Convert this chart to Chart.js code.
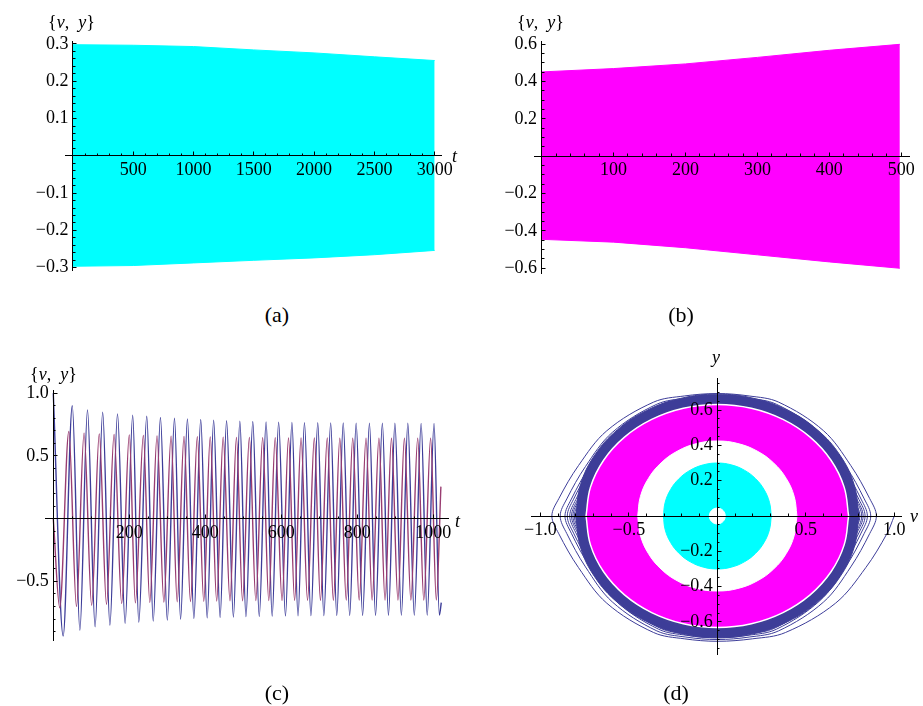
<!DOCTYPE html>
<html>
<head>
<meta charset="utf-8">
<script src="https://cdn.jsdelivr.net/npm/chart.js@4.4.1/dist/chart.umd.min.js"></script>
<style>
body { margin: 0; background: #fff; width: 923px; height: 706px; position: relative; overflow: hidden; font-family: 'Liberation Serif', serif; }
canvas { position: absolute; }
.lbl { position: absolute; font-size: 18px; line-height: 1; white-space: pre; color: #000; }
.cap { position: absolute; font-size: 22px; line-height: 1; width: 60px; text-align: center; color: #000; }
</style>
</head>
<body>
<canvas id="pa" width="461" height="300" style="left:0;top:0"></canvas>
<canvas id="pb" width="462" height="300" style="left:461px;top:0"></canvas>
<canvas id="pc" width="461" height="376" style="left:0;top:330px"></canvas>
<canvas id="pd" width="462" height="376" style="left:461px;top:330px"></canvas>

<div class="lbl" style="left:48px;top:13px">{<i>v</i>,  <i>y</i>}</div>
<div class="lbl" style="left:452px;top:147px"><i>t</i></div>
<div class="lbl" style="left:517px;top:13px">{<i>v</i>,  <i>y</i>}</div>
<div class="lbl" style="left:30px;top:365px">{<i>v</i>,  <i>y</i>}</div>
<div class="lbl" style="left:455px;top:512px"><i>t</i></div>
<div class="lbl" style="left:712px;top:348px"><i>y</i></div>
<div class="lbl" style="left:910px;top:507px"><i>v</i></div>
<div class="cap" style="left:247px;top:304px">(a)</div>
<div class="cap" style="left:651px;top:304px">(b)</div>
<div class="cap" style="left:247px;top:682px">(c)</div>
<div class="cap" style="left:646px;top:682px">(d)</div>

<script>
// (a) envelope of the fast oscillation, read at the tick marks
const aTimes = [0, 500, 1000, 1500, 2000, 2500, 3000];
const aUpper = [0.298, 0.2965, 0.293, 0.284, 0.276, 0.2655, 0.2555];
const aLower = [-0.296, -0.294, -0.287, -0.280, -0.2735, -0.265, -0.2535];

// (b) envelope, growing
const bTimes = [0, 100, 200, 300, 400, 498];
const bUpper = [0.452, 0.47, 0.495, 0.53, 0.568, 0.60];
const bLower = [-0.445, -0.46, -0.49, -0.528, -0.566, -0.60];

// (c) turning points of v (blue) and y (red)
const vTimes = [0, 26, 50, 70, 90, 110, 130, 149, 169, 189, 209, 225, 246, 263, 282, 300, 319, 335, 353, 370,
	388, 405, 422, 439, 456, 474, 491, 507, 525, 542, 560, 576, 593, 611, 628, 644, 661, 678, 696, 712,
	730, 746, 763, 780, 797, 814, 832, 848, 866, 882, 899, 916, 933, 950, 968, 984, 1002, 1016, 1021];
const vValues = [1.0, -0.935, 0.899, -0.888, 0.867, -0.861, 0.848, -0.848, 0.835, -0.834, 0.824, -0.824,
	0.816, -0.816, 0.806, -0.808, 0.80, -0.80, 0.795, -0.795, 0.79, -0.791, 0.785, -0.787, 0.78, -0.784,
	0.777, -0.781, 0.774, -0.779, 0.771, -0.777, 0.769, -0.775, 0.767, -0.774, 0.765, -0.773, 0.764, -0.772,
	0.763, -0.771, 0.762, -0.771, 0.761, -0.77, 0.761, -0.77, 0.76, -0.77, 0.76, -0.769, 0.76, -0.769,
	0.759, -0.769, 0.759, -0.769, -0.67];
const yTimes = [0, 17, 41, 61, 81, 101, 121, 140, 160, 180, 200, 216, 237, 254, 273, 291, 310, 326, 344, 361,
	379, 396, 413, 430, 447, 465, 482, 498, 516, 533, 551, 567, 584, 602, 619, 635, 652, 669, 687, 703,
	721, 737, 754, 771, 788, 805, 823, 839, 857, 873, 890, 907, 924, 941, 959, 975, 993, 1008, 1020];
const yValues = [0, -0.71, 0.694, -0.70, 0.681, -0.69, 0.675, -0.682, 0.67, -0.676, 0.666, -0.671, 0.662,
	-0.667, 0.659, -0.664, 0.656, -0.662, 0.654, -0.66, 0.652, -0.658, 0.65, -0.656, 0.648, -0.655, 0.647,
	-0.654, 0.646, -0.653, 0.645, -0.652, 0.644, -0.652, 0.643, -0.651, 0.643, -0.65, 0.642, -0.65, 0.642,
	-0.65, 0.641, -0.649, 0.641, -0.649, 0.641, -0.649, 0.64, -0.649, 0.64, -0.648, 0.64, -0.648, 0.64,
	-0.648, 0.64, -0.648, 0.255];

// (d) outlines: unit quarter shapes and half-widths [v, y]
const circleV = [1, 0.966, 0.866, 0.707, 0.5, 0.259, 0];
const circleY = [0, 0.259, 0.5, 0.707, 0.866, 0.966, 1];
const loopShapeV = [1, 0.958, 0.839, 0.668, 0.385, 0.2, 0];
const loopShapeY = [0, 0.142, 0.412, 0.696, 0.93, 0.98, 1];
const bandSize = [0.80, 0.69];
const magentaSize = [0.742, 0.632];
const whiteSize = [0.45, 0.425];
const cyanSize = [0.305, 0.30];
const holeSize = [0.045, 0.045];

Chart.defaults.font.family = "'Liberation Serif', serif";
Chart.defaults.font.size = 18;
Chart.defaults.color = '#000';
Chart.defaults.animation = false;
Chart.defaults.plugins.legend.display = false;
Chart.defaults.plugins.tooltip.enabled = false;
Chart.defaults.elements.point.radius = 0;
Chart.defaults.elements.point.hoverRadius = 0;

const BLUE = '#3d3d99';
const RED = '#993d71';

function label(dec, pad) {
	return v => Math.abs(v) < 1e-9 ? '' : v.toFixed(dec).replace('-', '\u2212') + pad;
}

// ticks at every multiple of step inside the range
function stepTicks(step) {
	return s => {
		const ticks = [];
		for (let i = Math.ceil(s.min / step - 1e-9); i * step <= s.max + 1e-9; i++) {
			ticks.push({value: +(i * step).toFixed(6)});
		}
		s.ticks = ticks;
	};
}

function scale(axis, range, step, len, major, fmt) {
	return {
		type: 'linear', axis: axis, position: axis === 'x' ? {y: 0} : {x: 0},
		min: range[0], max: range[1], afterBuildTicks: stepTicks(step),
		grid: {drawOnChartArea: false, tickLength: len, tickColor: '#000', tickWidth: 1, z: 1},
		border: {display: major, color: '#000', width: 1, z: 1},
		ticks: {display: major, autoSkip: false, z: 1, maxRotation: 0, minRotation: 0, padding: 8, callback: fmt}
	};
}

function axes(xr, xs, yr, ys, xDec, yDec) {
	return {
		x: scale('x', xr, xs[0], -4.5, true, label(xDec, '')),
		xm: scale('x', xr, xs[1], -2.5, false),
		y: scale('y', yr, ys[0], -4.5, true, label(yDec, ' ')),
		ym: scale('y', yr, ys[1], -2.5, false)
	};
}

function pts(xs, ys) {
	return xs.map((x, i) => ({x: x, y: ys[i]}));
}

function envelope(times, vals, color) {
	return {data: pts(times, vals), showLine: true, fill: 'origin', backgroundColor: color,
		borderColor: color, borderWidth: 1, xAxisID: 'x', yAxisID: 'y'};
}

// two halves of a closed outline, each filled to the v axis
function halves(size, color, edge, width, order) {
	const n = circleV.length - 1;
	const a = size[0], b = size[1];
	return [1, -1].map(s => {
		const data = [];
		for (let j = 0; j <= n; j++) data.push({x: -a * circleV[j], y: s * b * circleY[j]});
		for (let j = n - 1; j >= 0; j--) data.push({x: a * circleV[j], y: s * b * circleY[j]});
		return {data: data, showLine: true, fill: 'origin', tension: 0.4, backgroundColor: color,
			borderColor: edge, borderWidth: width, order: order, xAxisID: 'x', yAxisID: 'y'};
	});
}

function base(pad, sc) {
	return {responsive: false, devicePixelRatio: 1, layout: {padding: pad}, scales: sc};
}

new Chart(document.getElementById('pa'), {
	type: 'scatter',
	data: {datasets: [envelope(aTimes, aUpper, '#00ffff'), envelope(aTimes, aLower, '#00ffff')]},
	options: base({left: 65, top: 41.7, right: 19.3, bottom: 30},
		axes([-66, 3055], [500, 100], [-0.306, 0.306], [0.1, 0.02], 0, 1))
});

new Chart(document.getElementById('pb'), {
	type: 'scatter',
	data: {datasets: [envelope(bTimes, bUpper, '#ff00ff'), envelope(bTimes, bLower, '#ff00ff')]},
	options: base({left: 73, top: 41.7, right: 10.7, bottom: 26.7},
		axes([-10.6, 511], [100, 20], [-0.627, 0.614], [0.2, 0.05], 0, 1))
});

new Chart(document.getElementById('pc'), {
	type: 'scatter',
	data: {
		datasets: [
			{data: pts(yTimes, yValues), showLine: true, borderColor: RED, borderWidth: 1.4,
				cubicInterpolationMode: 'monotone', xAxisID: 'x', yAxisID: 'y'},
			{data: pts(vTimes, vValues), showLine: true, borderColor: BLUE, borderWidth: 1.4,
				cubicInterpolationMode: 'monotone', xAxisID: 'x', yAxisID: 'y'}
		]
	},
	options: base({left: 45, top: 60, right: 12.7, bottom: 66},
		axes([-21.8, 1039.5], [200, 50], [-0.967, 1.025], [0.5, 0.1], 0, 1))
});

// phase portrait of (c): v turning points sit on y = 0, y turning points on v = 0
const blueExt = vValues.slice(0, vValues.length - 1);
const redExt = yValues.slice(1, yValues.length - 1);
const spiral = [];
const m = loopShapeV.length - 1;
for (let k = 0; k < redExt.length; k++) {
	const b0 = blueExt[k], b1 = blueExt[k + 1], r = redExt[k];
	for (let j = k === 0 ? 0 : 1; j < m; j++) spiral.push({x: b0 * loopShapeV[j], y: r * loopShapeY[j]});
	spiral.push({x: 0, y: r});
	for (let j = m - 1; j >= 0; j--) spiral.push({x: b1 * loopShapeV[j], y: r * loopShapeY[j]});
}

new Chart(document.getElementById('pd'), {
	type: 'scatter',
	data: {
		datasets: [].concat(
			halves(bandSize, '#3f3f97', '#3f3f97', 1, 6),
			[{data: spiral, showLine: true, borderColor: BLUE, borderWidth: 1, tension: 0.35,
				order: 5, xAxisID: 'x', yAxisID: 'y'}],
			halves(magentaSize, '#ff00ff', '#ffffff', 1.5, 4),
			halves(whiteSize, '#ffffff', '#ffffff', 1, 3),
			halves(cyanSize, '#00ffff', '#00ffff', 1, 2),
			halves(holeSize, '#ffffff', '#ffffff', 1, 1)
		)
	},
	options: base({left: 70.7, top: 48, right: 21.3, bottom: 52},
		axes([-1.049, 1.042], [0.5, 0.1], [-0.782, 0.782], [0.2, 0.05], 1, 1))
});
</script>
</body>
</html>
